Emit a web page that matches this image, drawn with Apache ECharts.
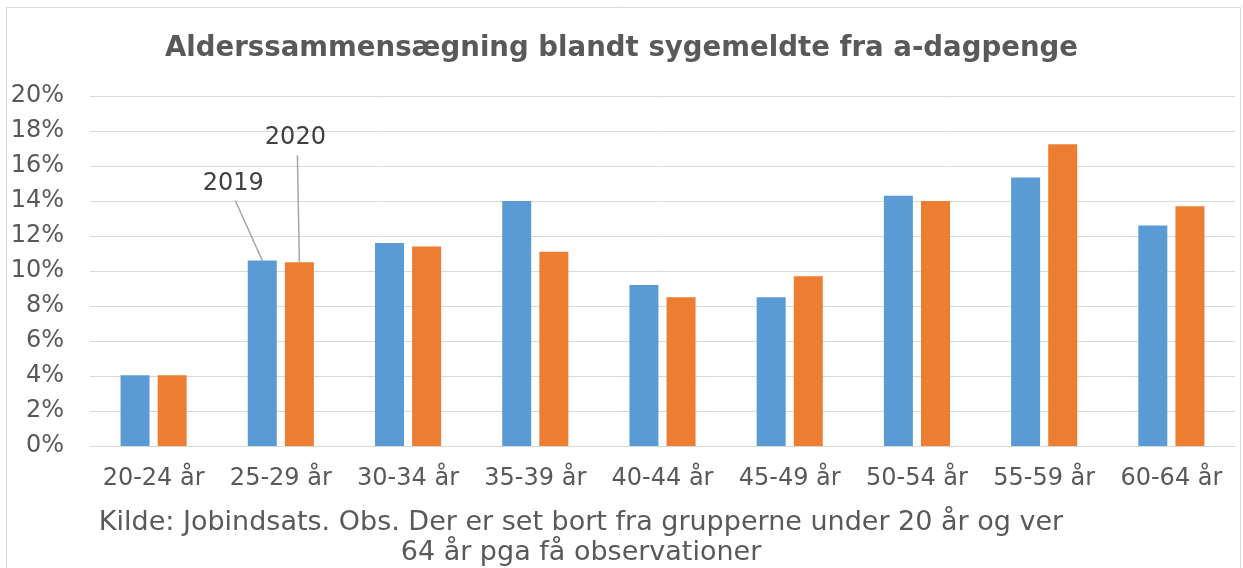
<!DOCTYPE html>
<html>
<head>
<meta charset="utf-8">
<script src="https://cdn.jsdelivr.net/npm/echarts@6/dist/echarts.min.js"></script>
<style>
html,body{margin:0;padding:0;background:#fff;}
#main{width:1243px;height:568px;}
</style>
</head>
<body>
<div id="main"></div>
<script>
const titleText = 'Alderssammensægning blandt sygemeldte fra a-dagpenge';
const sourceText = 'Kilde: Jobindsats. Obs. Der er set bort fra grupperne under 20 år og ver\n64 år pga få observationer';
const categories = ['20-24 år','25-29 år','30-34 år','35-39 år','40-44 år','45-49 år','50-54 år','55-59 år','60-64 år'];
const seriesNames = ['2019','2020'];
const values2019 = [4.05, 10.6, 11.6, 14.0, 9.2, 8.5, 14.3, 15.35, 12.6];
const values2020 = [4.05, 10.5, 11.4, 11.1, 8.5, 9.7, 14.0, 17.25, 13.7];
const yTicks = {min: 0, max: 20, interval: 2};
const labelIndex = 1;
const labelOffsets = [[-29, -60], [-4, -107]];

const FONT = 'DejaVu Sans';
const chart = echarts.init(document.getElementById('main'), null, {renderer: 'canvas'});

function makeData(vals, name, off) {
  return vals.map((v, i) => i === labelIndex
    ? {value: v, label: {show: true, position: 'top', distance: 5, offset: off, formatter: name}}
    : v);
}

chart.setOption({
  animation: false,
  backgroundColor: '#ffffff',
  textStyle: {fontFamily: FONT},
  title: {
    text: titleText, left: 'center', top: 30,
    textStyle: {fontFamily: FONT, fontSize: 27.6, fontWeight: 'bold', color: '#595959'}
  },
  graphic: [
    {id: 'border', type: 'rect', shape: {x: 6.5, y: 7.5, width: 1234, height: 620}, style: {fill: 'none', stroke: '#d9d9d9', lineWidth: 1}, silent: true},
    {id: 'source', type: 'text', x: 581, y: 508, style: {text: sourceText, fontFamily: FONT, fontSize: 27, fill: '#595959', textAlign: 'center', lineHeight: 30}}
  ],
  grid: {left: 90, right: 8, top: 96, bottom: 122, containLabel: false},
  xAxis: {
    type: 'category', data: categories,
    axisTick: {show: false},
    axisLine: {lineStyle: {color: '#d9d9d9', width: 1}},
    axisLabel: {color: '#595959', fontSize: 24, fontFamily: FONT, margin: 21, interval: 0}
  },
  yAxis: {
    type: 'value', min: yTicks.min, max: yTicks.max, interval: yTicks.interval,
    axisLine: {show: false}, axisTick: {show: false},
    splitLine: {lineStyle: {color: '#d9d9d9', width: 1}},
    axisLabel: {color: '#595959', fontSize: 24, fontFamily: FONT, margin: 26, padding: [4, 0, 0, 0], formatter: '{value}%'}
  },
  series: [
    {
      name: seriesNames[0], type: 'bar', data: makeData(values2019, seriesNames[0], labelOffsets[0]),
      barWidth: 29, barGap: '28%',
      itemStyle: {color: '#5b9bd5'},
      label: {show: false, color: '#404040', fontSize: 24, fontFamily: FONT}
    },
    {
      name: seriesNames[1], type: 'bar', data: makeData(values2020, seriesNames[1], labelOffsets[1]),
      barWidth: 29, barGap: '28%',
      itemStyle: {color: '#ed7d31'},
      label: {show: false, color: '#404040', fontSize: 24, fontFamily: FONT}
    }
  ]
});

// leader lines from each label to the top centre of its bar, using the library's bar layout
const lines = [];
[0, 1].forEach(function (si) {
  const lay = chart.getModel().getSeriesByIndex(si).getData().getItemLayout(labelIndex);
  const cx = lay.x + lay.width / 2;
  const top = Math.min(lay.y, lay.y + lay.height);
  const off = labelOffsets[si];
  const sx = cx + off[0] + 2;
  const sy = top - 5 + off[1] + 5;
  lines.push({id: 'leader' + si, type: 'line', silent: true, z: 5,
    shape: {x1: sx, y1: sy, x2: cx, y2: top},
    style: {stroke: '#a6a6a6', lineWidth: 1.5}});
});
chart.setOption({graphic: lines});
</script>
</body>
</html>
